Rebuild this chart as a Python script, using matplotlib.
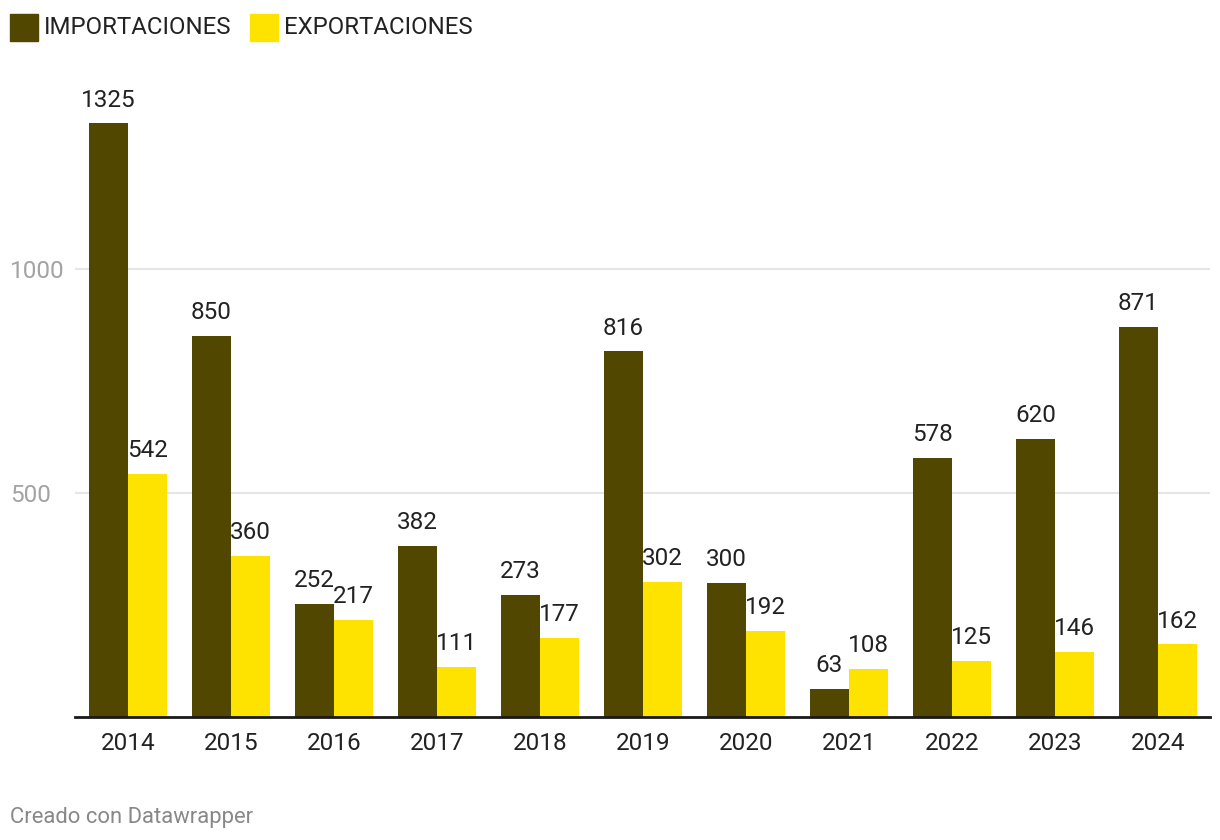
import matplotlib
matplotlib.use("Agg")
import matplotlib.pyplot as plt
from matplotlib.patches import Rectangle
import numpy as np

plt.rcParams["font.family"] = ["Roboto", "DejaVu Sans"]

years = ["2014", "2015", "2016", "2017", "2018", "2019", "2020", "2021", "2022", "2023", "2024"]
importaciones = [1325, 850, 252, 382, 273, 816, 300, 63, 578, 620, 871]
exportaciones = [542, 360, 217, 111, 177, 302, 192, 108, 125, 146, 162]

IMP_COLOR = "#524700"
EXP_COLOR = "#ffe300"
TEXT = "#222222"
W = 0.38
FS = 17.5

fig = plt.figure(figsize=(12.2, 8.4), dpi=100)
# baseline at y=717px, 0.448 px per unit; x groups 103px apart
ymax = 1400
ax = fig.add_axes([75 / 1220, 123 / 840, 1135 / 1220, ymax * 0.448 / 840])

x = np.arange(len(years))
ax.bar(x - W / 2, importaciones, W, color=IMP_COLOR, zorder=3)
ax.bar(x + W / 2, exportaciones, W, color=EXP_COLOR, zorder=3)

for xi, v in zip(x, importaciones):
    ax.annotate(str(v), (xi - W / 2, v), xytext=(0, 8.5), textcoords="offset points",
                ha="center", va="bottom", fontsize=FS, color=TEXT)
for xi, v in zip(x, exportaciones):
    ax.annotate(str(v), (xi + W / 2, v), xytext=(0, 8.5), textcoords="offset points",
                ha="center", va="bottom", fontsize=FS, color=TEXT)

ax.set_xlim(-0.515, 10.505)
ax.set_ylim(0, ymax)
ax.set_xticks(x)
ax.set_xticklabels(years, fontsize=FS, color=TEXT)
ax.tick_params(axis="x", length=0, pad=11)
ax.set_yticks([500, 1000])
ax.set_yticklabels([])
ax.tick_params(axis="y", length=0)
ax.grid(axis="y", color="#e3e3e3", lw=1.3, zorder=0)
for s in ["top", "right", "left"]:
    ax.spines[s].set_visible(False)
ax.spines["bottom"].set_color("#1a1a1a")
ax.spines["bottom"].set_linewidth(2)
ax.spines["bottom"].set_zorder(4)

for val in [500, 1000]:
    yp = (719 - val * 0.448) / 840
    fig.text(10 / 1220, 1 - yp, str(val), ha="left", va="center",
             fontsize=FS, color="#a3a3a3")

# legend
fig.patches.append(Rectangle((10 / 1220, 1 - 41 / 840), 28 / 1220, 27 / 840,
                             transform=fig.transFigure, color=IMP_COLOR))
fig.text(44 / 1220, 1 - 28 / 840, "IMPORTACIONES", ha="left", va="center",
         fontsize=17.3, color=TEXT)
fig.patches.append(Rectangle((250 / 1220, 1 - 41 / 840), 28 / 1220, 27 / 840,
                             transform=fig.transFigure, color=EXP_COLOR))
fig.text(284 / 1220, 1 - 28 / 840, "EXPORTACIONES", ha="left", va="center",
         fontsize=17.3, color=TEXT)

fig.text(10 / 1220, 1 - 818 / 840, "Creado con Datawrapper", ha="left", va="center",
         fontsize=15.8, color="#888888")

fig.savefig("out.png", dpi=100)
